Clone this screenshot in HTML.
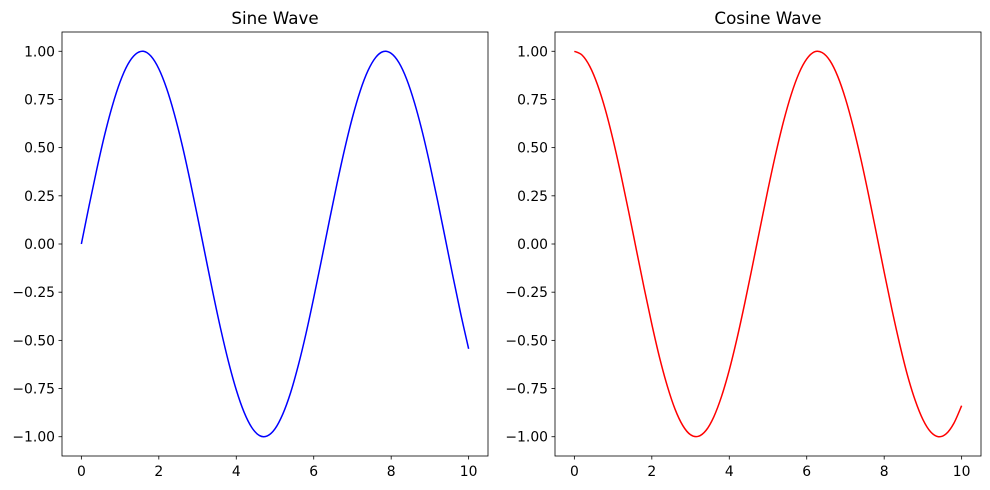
<!DOCTYPE html>
<html><head><meta charset="utf-8"><style>
body{margin:0;background:#fff;}
svg{display:block;font-family:"DejaVu Sans","Liberation Sans",sans-serif;}
</style></head><body>
<svg id="fig" width="990" height="490" viewBox="0 0 990 490"></svg>
<script>
const xValues = [0,0.2,0.4,0.6,0.8,1,1.2,1.4,1.6,1.8,2,2.2,2.4,2.6,2.8,3,3.2,3.4,3.6,3.8,4,4.2,4.4,4.6,4.8,5,5.2,5.4,5.6,5.8,6,6.2,6.4,6.6,6.8,7,7.2,7.4,7.6,7.8,8,8.2,8.4,8.6,8.8,9,9.2,9.4,9.6,9.8,10];
const sineValues = [0,0.199,0.389,0.565,0.717,0.841,0.932,0.985,1.000,0.974,0.909,0.808,0.675,0.516,0.335,0.141,-0.058,-0.256,-0.443,-0.612,-0.757,-0.872,-0.952,-0.994,-0.996,-0.959,-0.883,-0.773,-0.631,-0.465,-0.279,-0.083,0.117,0.312,0.494,0.657,0.794,0.899,0.968,0.999,0.989,0.941,0.855,0.734,0.585,0.412,0.223,0.025,-0.174,-0.366,-0.544];
const cosineValues = [1,0.980,0.921,0.825,0.697,0.540,0.362,0.170,-0.029,-0.227,-0.416,-0.589,-0.737,-0.857,-0.942,-0.990,-0.998,-0.967,-0.897,-0.791,-0.654,-0.490,-0.307,-0.112,0.087,0.284,0.469,0.635,0.776,0.886,0.960,0.997,0.993,0.951,0.870,0.754,0.608,0.439,0.252,0.054,-0.146,-0.340,-0.519,-0.680,-0.811,-0.911,-0.975,-1.000,-0.985,-0.930,-0.839];
const xTicks = [0,2,4,6,8,10];
const yTicks = [1.00,0.75,0.50,0.25,0.00,-0.25,-0.50,-0.75,-1.00];
const yTickLabels = ["1.00","0.75","0.50","0.25","0.00","\u22120.25","\u22120.50","\u22120.75","\u22121.00"];

const NS = "http://www.w3.org/2000/svg";
const svg = document.getElementById('fig');
function mk(tag, attrs, parent){const e=document.createElementNS(NS,tag);for(const k in attrs)e.setAttribute(k,attrs[k]);(parent||svg).appendChild(e);return e;}

function smoothPath(p){
  let d='M'+p[0][0].toFixed(2)+','+p[0][1].toFixed(2);
  for(let i=0;i<p.length-1;i++){
    const p0=p[i-1]||p[i],p1=p[i],p2=p[i+1],p3=p[i+2]||p[i+1];
    const c1=[p1[0]+(p2[0]-p0[0])/6,p1[1]+(p2[1]-p0[1])/6];
    const c2=[p2[0]-(p3[0]-p1[0])/6,p2[1]-(p3[1]-p1[1])/6];
    d+='C'+c1[0].toFixed(2)+','+c1[1].toFixed(2)+' '+c2[0].toFixed(2)+','+c2[1].toFixed(2)+' '+p2[0].toFixed(2)+','+p2[1].toFixed(2);
  }
  return d;
}

function drawPanel(left, name, title, ys, color){
  const right = left + 426, top = 32, bottom = 456;
  const xmin=-0.5,xmax=10.5,ymin=-1.1,ymax=1.1;
  const sx = v => left + (v-xmin)/(xmax-xmin)*(right-left);
  const sy = v => bottom - (v-ymin)/(ymax-ymin)*(bottom-top);
  const g = mk('g',{});
  
  
  const t = mk('text',{x:(left+right)/2,y:24,'text-anchor':'middle','font-size':'16.7','fill':'#000'},g);
  t.textContent = title;
  
  
  const pts = xValues.map((x,i)=>[sx(x),sy(ys[i])]);
  const line = mk('path',{d:smoothPath(pts),fill:'none',stroke:color,'stroke-width':'1.5','stroke-linejoin':'round'},g);
  
  
  xTicks.forEach(v=>{
    const x=sx(v);
    const tk = mk('line',{x1:x,x2:x,y1:bottom,y2:bottom+3.5,stroke:'#000','stroke-width':'0.8'},g);
    
    
    const lb = mk('text',{x:x,y:bottom+20,'text-anchor':'middle','font-size':'13.9','fill':'#000'},g);
    lb.textContent = String(v);
    
    
  });
  yTicks.forEach((v,i)=>{
    const y=sy(v);
    const tk = mk('line',{x1:left-3.5,x2:left,y1:y,y2:y,stroke:'#000','stroke-width':'0.8'},g);
    
    
    const lb = mk('text',{x:left-7,y:y+5,'text-anchor':'end','font-size':'13.9','fill':'#000'},g);
    lb.textContent = yTickLabels[i];
    
    
  });
  const fr = mk('rect',{x:left,y:top,width:right-left,height:bottom-top,fill:'none',stroke:'#000','stroke-width':'0.8'},g);
  
  
}
drawPanel(62,'sine','Sine Wave',sineValues,'#0000ff');
drawPanel(555,'cosine','Cosine Wave',cosineValues,'#ff0000');
</script>
</body></html>
